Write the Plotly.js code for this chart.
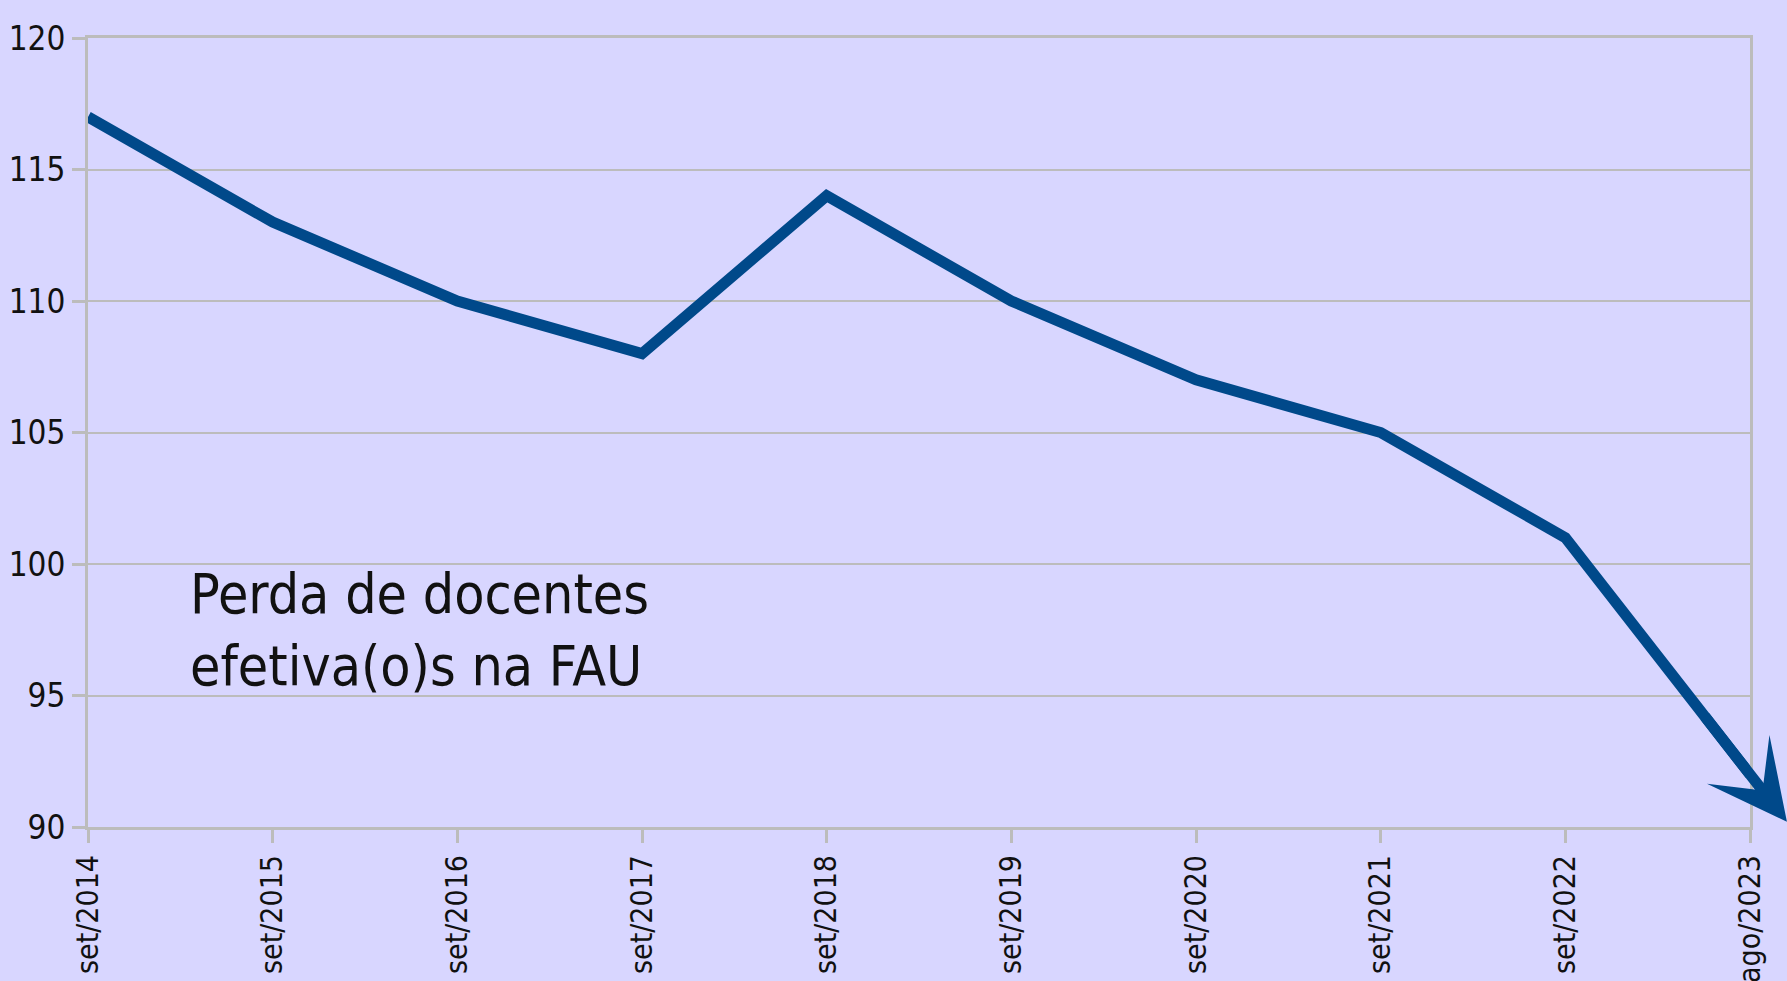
<!DOCTYPE html>
<html>
<head>
<meta charset="utf-8">
<script src="https://cdn.plot.ly/plotly-3.0.1.min.js"></script>
<style>
  html, body { margin: 0; padding: 0; background: #d8d6ff; }
  #chart { width: 1787px; height: 981px; }
</style>
</head>
<body>
<div id="chart"></div>
<script>
const categories = ['set/2014','set/2015','set/2016','set/2017','set/2018','set/2019','set/2020','set/2021','set/2022','ago/2023'];
const docentes = [117, 113, 110, 108, 114, 110, 107, 105, 101, 92];
const yTicks = [90, 95, 100, 105, 110, 115, 120];
const note = 'Perda de docentes<br>efetiva(o)s na FAU';

const FONT = '"DejaVu Sans Condensed", "Liberation Sans Narrow", sans-serif';
const BG = '#d8d6ff';
const LINE = '#00498a';
const GRID = '#bcbcbc';

// arrow continues the final segment beyond the last data point
const n = docentes.length;
const slope = docentes[n - 1] - docentes[n - 2];
const tipX = (n - 1) + 0.2, tipY = docentes[n - 1] + slope * 0.2;
const tailX = (n - 1) - 0.25, tailY = docentes[n - 1] - slope * 0.25;

const trace = {
  type: 'scatter',
  mode: 'lines',
  x: categories,
  y: docentes,
  line: { color: LINE, width: 11 },
  cliponaxis: false,
  hoverinfo: 'x+y'
};

const layout = {
  width: 1787,
  height: 981,
  paper_bgcolor: BG,
  plot_bgcolor: BG,
  margin: { l: 88, r: 37, t: 38, b: 154 },
  showlegend: false,
  font: { family: FONT, color: '#111' },
  xaxis: {
    type: 'category',
    range: [0, n - 1],
    showgrid: false,
    zeroline: false,
    showline: true,
    mirror: true,
    linecolor: GRID,
    linewidth: 3,
    ticks: 'outside',
    ticklen: 13,
    tickwidth: 3,
    tickcolor: GRID,
    tickangle: -90,
    tickfont: { family: FONT, size: 30, color: '#111' }
  },
  yaxis: {
    range: [90, 120],
    tickvals: yTicks,
    ticktext: yTicks.map(String),
    showgrid: true,
    gridcolor: GRID,
    gridwidth: 2,
    zeroline: false,
    showline: true,
    mirror: true,
    linecolor: GRID,
    linewidth: 3,
    ticks: 'outside',
    ticklen: 13,
    tickwidth: 3,
    tickcolor: GRID,
    tickfont: { family: FONT, size: 33, color: '#111' }
  },
  annotations: [
    {
      xref: 'paper', yref: 'paper',
      x: 0.06, y: 0.25,
      xanchor: 'left', yanchor: 'middle',
      align: 'left',
      showarrow: false,
      text: note,
      font: { family: FONT, size: 55, color: '#111' }
    },
    {
      xref: 'x', yref: 'y', axref: 'x', ayref: 'y',
      x: tipX, y: tipY, ax: tailX, ay: tailY,
      text: '',
      showarrow: true,
      arrowhead: 3,
      arrowsize: 1.2,
      arrowwidth: 11,
      arrowcolor: LINE,
      standoff: 0
    }
  ]
};

Plotly.newPlot('chart', [trace], layout, { displayModeBar: false, staticPlot: true });
</script>
</body>
</html>
